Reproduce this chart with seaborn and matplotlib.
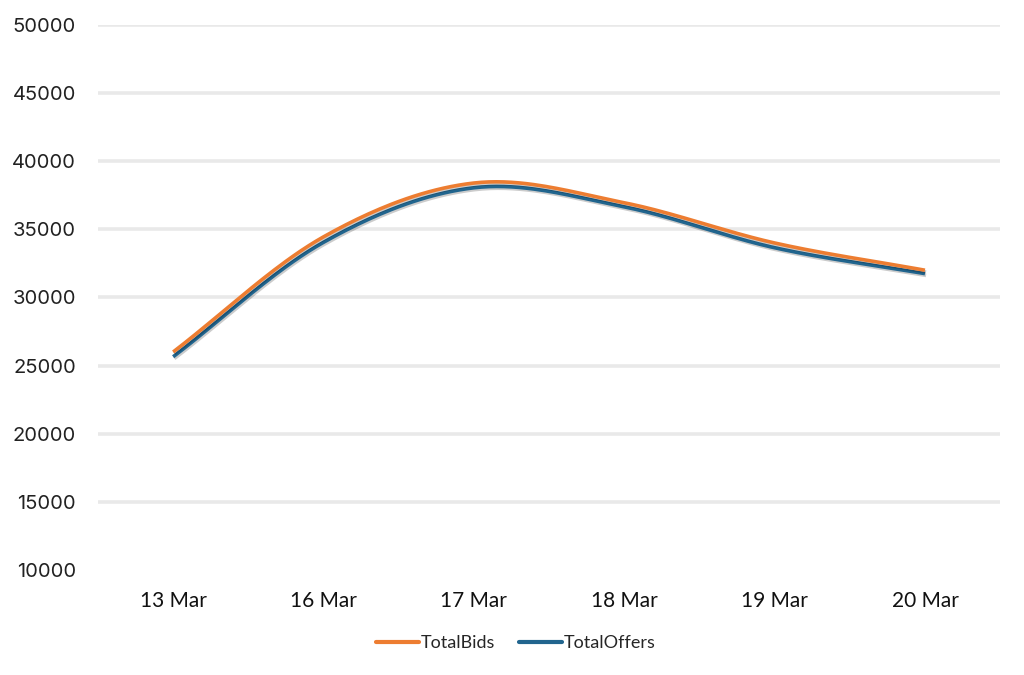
import numpy as np
import pandas as pd
import matplotlib
matplotlib.use("Agg")
import matplotlib.pyplot as plt
import matplotlib.patheffects as pe
from matplotlib.lines import Line2D
import seaborn as sns

categories = ["13 Mar", "16 Mar", "17 Mar", "18 Mar", "19 Mar", "20 Mar"]
total_bids = [26000, 34450, 38400, 36950, 34000, 32000]
total_offers = [25650, 34050, 38050, 36650, 33650, 31750]
y_ticks = [10000, 15000, 20000, 25000, 30000, 35000, 40000, 45000, 50000]

colors = {"TotalBids": "#ED7D31", "TotalOffers": "#21658E"}


def smooth(vals, n=40):
    # Catmull-Rom style smoothing (like a spreadsheet's smoothed line)
    v = np.asarray(vals, dtype=float)
    x = np.arange(len(v), dtype=float)
    m = np.zeros_like(v)
    m[1:-1] = (v[2:] - v[:-2]) / 2.0
    m[0] = (v[1] - v[0])
    m[-1] = (v[-1] - v[-2])
    xs, ys = [], []
    for i in range(len(v) - 1):
        t = np.linspace(0, 1, n, endpoint=(i == len(v) - 2))
        h00 = 2 * t**3 - 3 * t**2 + 1
        h10 = t**3 - 2 * t**2 + t
        h01 = -2 * t**3 + 3 * t**2
        h11 = t**3 - t**2
        ys.append(h00 * v[i] + h10 * m[i] + h01 * v[i + 1] + h11 * m[i + 1])
        xs.append(x[i] + t)
    return np.concatenate(xs), np.concatenate(ys)


sns.set_theme(style="white")
plt.rcParams["font.family"] = ["Inter", "DejaVu Sans"]

fig = plt.figure(figsize=(10.24, 6.75), dpi=100)
ax = fig.add_axes([0.0957, 0.1556, 0.881, 0.8074])

frames = []
for name, vals in [("TotalOffers", total_offers), ("TotalBids", total_bids)]:
    xs, ys = smooth(vals)
    frames.append(pd.DataFrame({"x": xs, "y": ys, "series": name}))
df = pd.concat(frames, ignore_index=True)

shadow = [pe.SimpleLineShadow(offset=(0.8, -1.3), alpha=0.2, shadow_color="black"), pe.Normal()]
sns.lineplot(data=df, x="x", y="y", hue="series", palette=colors, sort=False,
             linewidth=2.6, ax=ax, legend=False, estimator=None)
for ln in ax.lines:
    ln.set_path_effects(shadow)
    ln.set_solid_capstyle("butt")

ax.set_xlim(-0.5, 5.5)
ax.set_ylim(10000, 50000)
ax.set_yticks(y_ticks)
ax.set_yticklabels([str(t) for t in y_ticks], fontsize=14.5, color="#222222",
                   family=["Inter", "DejaVu Sans"])
ax.set_xticks(range(len(categories)))
ax.set_xticklabels(categories, fontsize=15, color="#111111",
                   family=["Lato", "DejaVu Sans"])
ax.tick_params(axis="y", length=0, pad=16)
ax.tick_params(axis="x", length=0, pad=15)

for t in y_ticks[1:]:
    ax.axhline(t, color="#e9e9e9", linewidth=2.6, zorder=0)
ax.grid(False)
for s in ax.spines.values():
    s.set_visible(False)
ax.set_xlabel("")
ax.set_ylabel("")

handles = [Line2D([0], [0], color=colors[k], linewidth=3.0) for k in ["TotalBids", "TotalOffers"]]
fig.legend(handles, ["TotalBids", "TotalOffers"], loc="center", bbox_to_anchor=(0.504, 0.047),
           ncol=2, frameon=False, handlelength=2.4, handletextpad=0.1, columnspacing=1.3,
           prop={"family": ["Lato", "DejaVu Sans"], "size": 13})

fig.savefig("out.png", dpi=100)
